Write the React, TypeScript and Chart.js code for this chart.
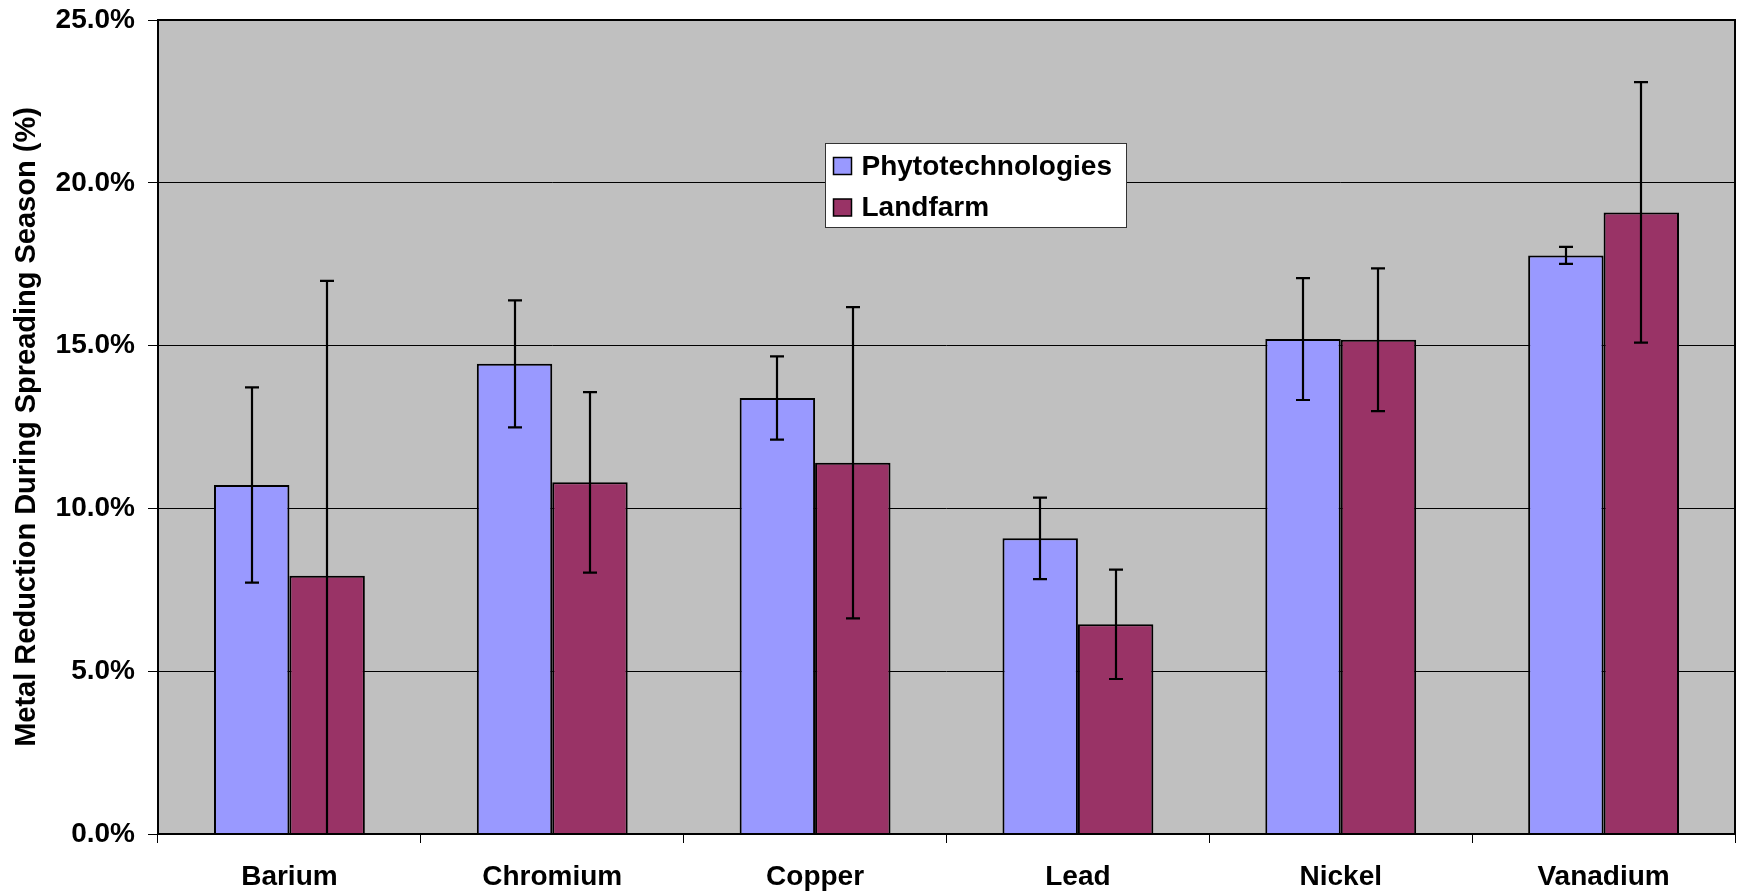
import React, { useEffect, useRef } from "react";
import { Chart, registerables } from "chart.js";

Chart.register(...registerables);

const categories = ["Barium", "Chromium", "Copper", "Lead", "Nickel", "Vanadium"];
const phytoValues = [10.72, 14.44, 13.39, 9.08, 15.2, 17.77];
const phytoErrors = [3.0, 1.95, 1.28, 1.25, 1.87, 0.26];
const landfarmValues = [7.93, 10.8, 11.4, 6.44, 15.18, 19.09];
const landfarmErrors = [9.06, 2.77, 4.78, 1.68, 2.19, 4.0];
const seriesNames = ["Phytotechnologies", "Landfarm"];
const seriesColors = ["#9999FF", "#993366"];
const yTicks = [0, 5, 10, 15, 20, 25];
const yTitle = "Metal Reduction During Spreading Season (%)";

const FONT = "'Liberation Sans', Arial, sans-serif";
const errorSets = [phytoErrors, landfarmErrors];

const backgroundPlugin = {
  id: "plotBg",
  beforeDraw(chart: any) {
    const { ctx, chartArea: a } = chart;
    ctx.save();
    ctx.fillStyle = "#C0C0C0";
    ctx.fillRect(a.left, a.top, a.right - a.left, a.bottom - a.top);
    ctx.restore();
  },
};

const errorBarPlugin = {
  id: "errorBars",
  afterDatasetsDraw(chart: any) {
    const { ctx, chartArea: a } = chart;
    const ys = chart.scales.y;
    ctx.save();
    ctx.beginPath();
    ctx.rect(a.left, a.top, a.right - a.left, a.bottom - a.top);
    ctx.clip();
    ctx.strokeStyle = "#000";
    ctx.lineWidth = 2.2;
    chart.data.datasets.forEach((ds: any, i: number) => {
      const meta = chart.getDatasetMeta(i);
      meta.data.forEach((el: any, j: number) => {
        const v = ds.data[j];
        const e = errorSets[i][j];
        const x = Math.round(el.x);
        const yHi = ys.getPixelForValue(v + e);
        const yLo = ys.getPixelForValue(v - e);
        ctx.beginPath();
        ctx.moveTo(x, yHi);
        ctx.lineTo(x, yLo);
        ctx.stroke();
        const cap = 7;
        ctx.beginPath();
        ctx.moveTo(x - cap, yHi);
        ctx.lineTo(x + cap, yHi);
        ctx.moveTo(x - cap, yLo);
        ctx.lineTo(x + cap, yLo);
        ctx.stroke();
      });
    });
    ctx.restore();
  },
};

const framePlugin = {
  id: "frame",
  afterDatasetsDraw(chart: any) {
    const { ctx, chartArea: a } = chart;
    ctx.save();
    ctx.strokeStyle = "#000";
    ctx.lineWidth = 2;
    ctx.strokeRect(a.left, a.top, a.right - a.left, a.bottom - a.top);
    ctx.restore();
  },
};

const legendPlugin = {
  id: "boxLegend",
  afterDraw(chart: any) {
    const { ctx, chartArea: a } = chart;
    const w = a.right - a.left;
    const h = a.bottom - a.top;
    const bx = Math.round(a.left + 0.423 * w) + 0.5;
    const by = Math.round(a.top + 0.151 * h) + 0.5;
    const bw = 301;
    const bh = 84;
    ctx.save();
    ctx.fillStyle = "#FFFFFF";
    ctx.fillRect(bx, by, bw, bh);
    ctx.strokeStyle = "#333";
    ctx.lineWidth = 1;
    ctx.strokeRect(bx, by, bw, bh);
    ctx.font = `bold 28px ${FONT}`;
    ctx.textBaseline = "middle";
    ctx.textAlign = "left";
    seriesNames.forEach((name, i) => {
      const cy = by + 22.5 + i * 41.5;
      ctx.fillStyle = seriesColors[i];
      ctx.fillRect(bx + 8, cy - 8.5, 18, 17);
      ctx.strokeStyle = "#000";
      ctx.lineWidth = 1.5;
      ctx.strokeRect(bx + 8, cy - 8.5, 18, 17);
      ctx.fillStyle = "#000";
      ctx.fillText(name, bx + 36, cy + 1);
    });
    ctx.restore();
  },
};

export default function App() {
  const canvasRef = useRef<HTMLCanvasElement | null>(null);

  useEffect(() => {
    if (!canvasRef.current) return;
    Chart.defaults.font.family = FONT;
    const chart = new Chart(canvasRef.current, {
      type: "bar",
      data: {
        labels: categories,
        datasets: [
          {
            label: seriesNames[0],
            data: phytoValues,
            backgroundColor: seriesColors[0],
            borderColor: "#000",
            borderWidth: 2,
            categoryPercentage: 0.574,
            barPercentage: 1,
          },
          {
            label: seriesNames[1],
            data: landfarmValues,
            backgroundColor: seriesColors[1],
            borderColor: "#000",
            borderWidth: 2,
            categoryPercentage: 0.574,
            barPercentage: 1,
          },
        ],
      },
      options: {
        animation: false,
        responsive: false,
        maintainAspectRatio: false,
        devicePixelRatio: 1,
        layout: { padding: { top: 20, right: 3, bottom: 0, left: 0 } },
        plugins: {
          legend: { display: false },
          tooltip: { enabled: false },
          title: { display: false },
        },
        scales: {
          x: {
            grid: {
              display: true,
              offset: true,
              drawOnChartArea: false,
              drawTicks: true,
              tickLength: 9,
              color: "#000",
              lineWidth: 1,
            },
            border: { display: false },
            ticks: {
              color: "#000",
              font: { size: 28, weight: "bold", family: FONT },
              padding: 17,
              maxRotation: 0,
              autoSkip: false,
            },
            afterFit(scale: any) {
              scale.height = 58;
              scale.paddingLeft = 0;
              scale.paddingRight = 0;
            },
          },
          y: {
            min: 0,
            max: 25,
            afterBuildTicks(scale: any) {
              scale.ticks = yTicks.map((v) => ({ value: v }));
            },
            grid: {
              color: "#000",
              lineWidth: 1,
              drawTicks: true,
              tickLength: 10,
            },
            border: { display: false },
            ticks: {
              color: "#000",
              font: { size: 28, weight: "bold", family: FONT },
              padding: 13,
              callback: (v: any) => Number(v).toFixed(1) + "%",
            },
            title: {
              display: true,
              text: yTitle,
              color: "#000",
              font: { size: 29, weight: "bold", family: FONT },
              padding: { top: 10, bottom: 0 },
            },
            afterFit(scale: any) {
              scale.width = 158;
              scale.paddingTop = 0;
              scale.paddingBottom = 0;
            },
          },
        },
      },
      plugins: [backgroundPlugin, errorBarPlugin, framePlugin, legendPlugin],
    } as any);
    return () => chart.destroy();
  }, []);

  return (
    <div style={{ position: "absolute", left: 0, top: 0, width: 1738, height: 892, background: "#fff" }}>
      <canvas ref={canvasRef} width={1738} height={892} style={{ width: 1738, height: 892, display: "block" }} />
    </div>
  );
}
